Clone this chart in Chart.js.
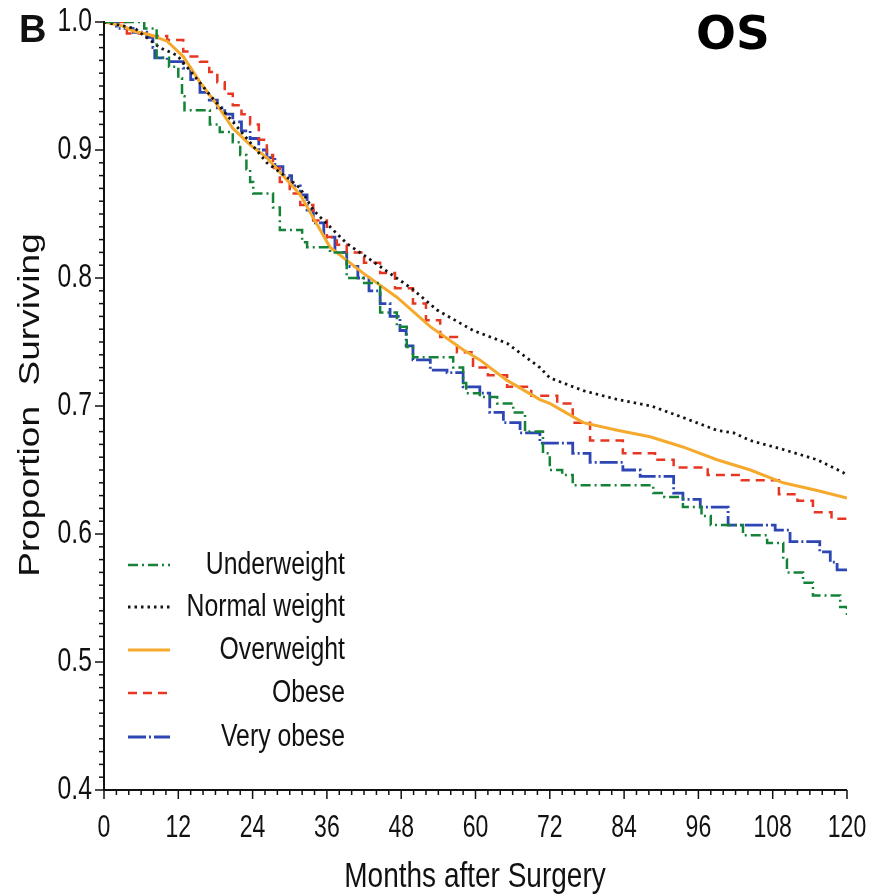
<!DOCTYPE html>
<html>
<head>
<meta charset="utf-8">
<script src="https://cdn.jsdelivr.net/npm/chart.js@4.4.1/dist/chart.umd.min.js"></script>
<style>
html,body{margin:0;padding:0;background:#fff;}
canvas{display:block;}
</style>
</head>
<body>
<canvas id="c" width="879" height="895"></canvas>
<script>
// ---- data (months, proportion surviving) ----
const seriesNames = ["Underweight", "Normal weight", "Overweight", "Obese", "Very obese"];
const xTickLabels = [0, 12, 24, 36, 48, 60, 72, 84, 96, 108, 120];
const yTickLabels = ["0.4", "0.5", "0.6", "0.7", "0.8", "0.9", "1.0"];

const underweight = [
  [0,1.0],[6.5,0.995],[8.5,0.972],[10.5,0.965],[12,0.956],[12.6,0.942],[13,0.931],[17.1,0.920],
  [18.7,0.914],[20.8,0.906],[22,0.896],[23,0.885],[23.6,0.875],[24.1,0.866],[27.3,0.855],[28.4,0.8375],
  [32,0.828],[32.8,0.824],[36.5,0.82],[39.2,0.80],[41.8,0.796],[44.6,0.773],[47.3,0.762],[48.9,0.746],
  [49.9,0.738],[56.4,0.73],[58.0,0.718],[58.5,0.71],[60.7,0.707],[63.5,0.702],[66.1,0.695],[68,0.68],
  [70.9,0.663],[72.0,0.65],[74,0.646],[75.7,0.638],[88.7,0.632],[90.5,0.629],[93.5,0.621],[96.5,0.614],
  [98,0.607],[103.2,0.599],[107.1,0.593],[109.7,0.58],[110.3,0.57],[112.9,0.562],[114.5,0.552],
  [118.9,0.543],[120,0.535]
];
const normalWeight = [
  [0,1],[2,0.998],[5,0.995],[6.3,0.99],[9,0.98],[11.8,0.974],[14.4,0.959],[17.1,0.943],[20.8,0.922],
  [23.6,0.906],[26.3,0.89],[28.9,0.881],[30,0.877],[31.7,0.87],[33.8,0.853],[39.2,0.827],[44.6,0.809],
  [49.9,0.791],[53.8,0.775],[59.6,0.759],[65.1,0.749],[70.4,0.73],[72,0.722],[77.4,0.712],[83,0.705],
  [88.4,0.70],[93.5,0.691],[99,0.681],[101.7,0.679],[104.4,0.673],[109.7,0.666],[115.2,0.658],
  [119.4,0.648],[120,0.645]
];
const overweight = [
  [0,1],[3,0.997],[4.7,0.993],[7.4,0.99],[10.2,0.985],[12.8,0.973],[15.5,0.953],[18.3,0.935],
  [20.8,0.917],[23.6,0.904],[26.3,0.894],[28.9,0.88],[31.7,0.865],[36.5,0.824],[41.8,0.804],
  [47.3,0.785],[52.7,0.762],[58,0.744],[60.7,0.736],[65.1,0.72],[70.4,0.705],[72,0.702],[77.4,0.687],
  [82.9,0.681],[88.2,0.676],[93.5,0.668],[99,0.658],[104.4,0.65],[109.7,0.64],[115.2,0.634],[120,0.628]
];
const obese = [
  [0,1],[3.7,0.991],[7.4,0.989],[10.2,0.986],[12.8,0.977],[14,0.973],[15.5,0.969],[17,0.961],[18.3,0.953],
  [19.5,0.944],[20.8,0.935],[22.2,0.928],[23.6,0.92],[25,0.908],[26.3,0.896],[27.3,0.886],[28.4,0.875],
  [30,0.866],[31.7,0.857],[33.8,0.845],[36,0.832],[37.6,0.826],[39.2,0.82],[42,0.812],[44.6,0.804],
  [47,0.792],[49.9,0.78],[52,0.767],[54.3,0.754],[57,0.742],[59.6,0.73],[62,0.724],[65.1,0.715],
  [69,0.708],[73.2,0.702],[75.7,0.687],[78.5,0.673],[83.8,0.663],[89,0.658],[92,0.652],[97.5,0.646],
  [103,0.642],[109,0.631],[112,0.626],[114.5,0.617],[117.5,0.612],[120,0.611]
];
const veryObese = [
  [0,1],[2,0.995],[4.7,0.992],[6.9,0.988],[7.9,0.98],[8.2,0.972],[10.2,0.969],[12.8,0.964],[14,0.955],
  [15.5,0.945],[17,0.939],[18.3,0.933],[19.5,0.928],[20.8,0.922],[22.2,0.915],[23.6,0.909],[25,0.9],
  [26.3,0.894],[27.6,0.887],[28.9,0.88],[30.3,0.872],[31.7,0.865],[32.8,0.853],[33.8,0.843],[35.5,0.832],
  [37.3,0.82],[39.2,0.809],[41,0.8],[42.8,0.79],[44.6,0.78],[46.2,0.77],[47.8,0.759],[48.8,0.747],
  [49.9,0.736],[52.7,0.728],[55.4,0.726],[58,0.715],[60.7,0.71],[62.3,0.695],[64.5,0.687],[67.2,0.679],
  [70.4,0.671],[75.7,0.663],[78.5,0.656],[83.8,0.65],[86.6,0.645],[92,0.632],[93.5,0.627],[96.3,0.621],
  [100.8,0.607],[108.4,0.603],[110.8,0.594],[115.6,0.586],[117.3,0.578],[118.4,0.572],[120,0.572]
];

const toXY = arr => arr.map(p => ({x: p[0], y: p[1]}));

const styles = [
  {color: "rgb(20,130,55)", dash: [10,4,2,4], width: 2.5, stepped: true},
  {color: "rgb(20,20,20)", dash: [2.5,4], width: 2.8, stepped: false},
  {color: "rgb(245,170,45)", dash: [], width: 3, stepped: false},
  {color: "rgb(230,55,35)", dash: [9,6], width: 2.5, stepped: true},
  {color: "rgb(45,70,180)", dash: [18,3,2,3], width: 2.8, stepped: true}
];
const allData = [underweight, normalWeight, overweight, obese, veryObese];

const datasets = allData.map((d, i) => ({
  label: seriesNames[i],
  data: toXY(d),
  borderColor: styles[i].color,
  borderDash: styles[i].dash,
  borderWidth: styles[i].width,
  stepped: styles[i].stepped ? 'before' : false,
  pointRadius: 0,
  tension: 0,
  fill: false
}));

function drawText(ctx, text, x, y, size, opts) {
  opts = opts || {};
  ctx.save();
  ctx.translate(x, y);
  ctx.scale(opts.sx || 1, 1);
  if (opts.rotate) ctx.rotate(opts.rotate);
  ctx.font = (opts.weight || "normal") + " " + size + "px " + (opts.family || "'Liberation Sans', Arial, sans-serif");
  ctx.fillStyle = opts.color || "#111";
  ctx.textAlign = opts.align || "center";
  ctx.textBaseline = opts.baseline || "middle";
  ctx.fillText(text, 0, 0);
  ctx.restore();
}

const decor = {
  id: "decor",
  beforeDraw(chart) {
    const ctx = chart.ctx;
    ctx.save();
    ctx.fillStyle = "#fff";
    ctx.fillRect(0, 0, chart.width, chart.height);
    ctx.restore();
  },
  afterDraw(chart) {
    const ctx = chart.ctx;
    const xs = chart.scales.x, ys = chart.scales.y;
    const x0 = xs.getPixelForValue(0), x1 = xs.getPixelForValue(120);
    const y0 = ys.getPixelForValue(0.4), y1 = ys.getPixelForValue(1.0);
    ctx.save();
    ctx.strokeStyle = "#111";
    ctx.lineWidth = 2;
    ctx.beginPath();
    ctx.moveTo(x0, y1 - 1); ctx.lineTo(x0, y0);
    ctx.lineTo(x1, y0);
    ctx.stroke();
    ctx.lineWidth = 1.5;
    for (let m = 0; m <= 120; m += 2) {
      const px = xs.getPixelForValue(m);
      const len = (m % 12 === 0) ? 9 : 5;
      ctx.beginPath(); ctx.moveTo(px, y0); ctx.lineTo(px, y0 + len); ctx.stroke();
    }
    for (let k = 40; k <= 100; k += 1) {
      const py = ys.getPixelForValue(k / 100);
      const len = (k % 10 === 0) ? 9 : 5;
      ctx.beginPath(); ctx.moveTo(x0, py); ctx.lineTo(x0 - len, py); ctx.stroke();
    }
    ctx.restore();

    xTickLabels.forEach(v => {
      drawText(ctx, String(v), xs.getPixelForValue(v), y0 + 38, 32, {sx: 0.72});
    });
    yTickLabels.forEach(v => {
      const py = ys.getPixelForValue(parseFloat(v));
      drawText(ctx, v, 92, py, 33, {sx: 0.75, align: "right"});
    });

    drawText(ctx, "Months after Surgery", 475, 877, 35, {sx: 0.8});
    drawText(ctx, "Proportion  Surviving", 31, 405, 37, {sx: 0.82, rotate: -Math.PI / 2});

    drawText(ctx, "B", 19, 42, 38, {weight: "bold", align: "left", baseline: "alphabetic"});
    drawText(ctx, "OS", 696, 49, 47, {weight: "bold", align: "left", baseline: "alphabetic",
      family: "'DejaVu Sans', sans-serif", color: "#000"});

    const rowsY = [565, 607, 650, 693, 737];
    seriesNames.forEach((name, i) => {
      const st = styles[i];
      ctx.save();
      ctx.strokeStyle = st.color;
      ctx.lineWidth = st.width;
      ctx.setLineDash(st.dash);
      ctx.beginPath();
      ctx.moveTo(128, rowsY[i]); ctx.lineTo(170, rowsY[i]);
      ctx.stroke();
      ctx.restore();
      drawText(ctx, name, 345, rowsY[i], 31, {sx: 0.8, align: "right"});
    });
  }
};

new Chart(document.getElementById("c"), {
  type: "line",
  data: { datasets },
  options: {
    responsive: false,
    animation: false,
    devicePixelRatio: 1,
    layout: { padding: { left: 104, right: 32, top: 22, bottom: 105 } },
    plugins: { legend: { display: false }, tooltip: { enabled: false } },
    scales: {
      x: { type: "linear", min: 0, max: 120, display: false },
      y: { type: "linear", min: 0.4, max: 1.0, display: false }
    }
  },
  plugins: [decor]
});
</script>
</body>
</html>
